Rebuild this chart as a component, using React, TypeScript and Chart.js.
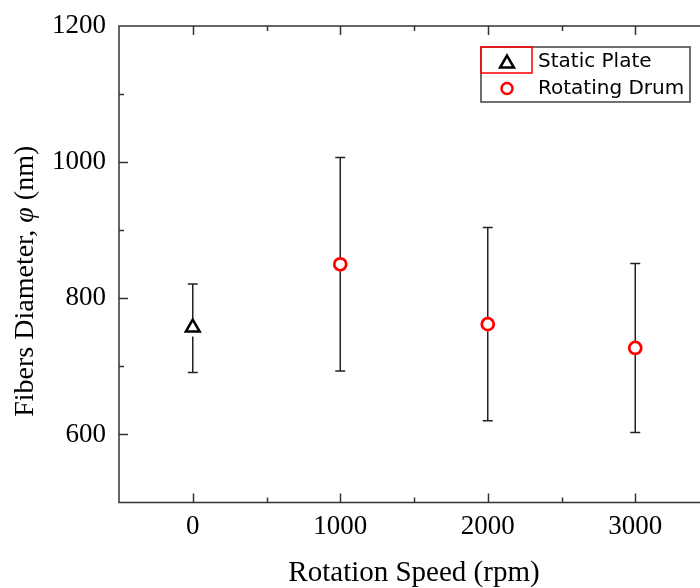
import React, { useEffect, useRef } from 'react';
import { Chart, registerables } from 'chart.js';
Chart.register(...registerables);

// ---- data ----
const staticSpeed = [0];
const staticMean = [757];
const staticLow = [691];
const staticHigh = [821];

const drumSpeed = [1000, 2000, 3000];
const drumMean = [850, 762, 727];
const drumLow = [693, 620, 603];
const drumHigh = [1007, 904, 851];

const seriesLabels = ['Static Plate', 'Rotating Drum'];
const xMajorTicks = [0, 1000, 2000, 3000];
const yMajorTicks = [600, 800, 1000, 1200];
const xTitle = 'Rotation Speed (rpm)';
const yTitleParts = ['Fibers Diameter, ', 'φ', ' (nm)'];

const SERIF = '"Liberation Serif", "Times New Roman", serif';
const SANS = '"DejaVu Sans", sans-serif';
const AXIS_COLOR = '#333333';

const errorBarPlugin = {
  id: 'errorBars',
  beforeDatasetsDraw(chart: any) {
    const ctx = chart.ctx;
    const xs = chart.scales.x;
    const ys = chart.scales.y;
    chart.data.datasets.forEach((ds: any) => {
      ds.data.forEach((pt: any, j: number) => {
        const x = xs.getPixelForValue(pt.x);
        const yc = ys.getPixelForValue(pt.y);
        const yh = ys.getPixelForValue(ds.errHigh[j]);
        const yl = ys.getPixelForValue(ds.errLow[j]);
        const gap = ds.errGap;
        ctx.save();
        ctx.strokeStyle = '#222222';
        ctx.lineWidth = 1.5;
        ctx.beginPath();
        ctx.moveTo(x, yh);
        ctx.lineTo(x, yc - gap);
        ctx.moveTo(x, yc + gap);
        ctx.lineTo(x, yl);
        ctx.moveTo(x - 5, yh);
        ctx.lineTo(x + 5, yh);
        ctx.moveTo(x - 5, yl);
        ctx.lineTo(x + 5, yl);
        ctx.stroke();
        ctx.restore();
      });
    });
  },
};

const framePlugin = {
  id: 'frameTicks',
  afterDatasetsDraw(chart: any) {
    const ctx = chart.ctx;
    const { left, right, top, bottom } = chart.chartArea;
    const xs = chart.scales.x;
    const ys = chart.scales.y;
    ctx.save();
    ctx.strokeStyle = AXIS_COLOR;
    ctx.lineWidth = 1.5;
    ctx.strokeRect(left, top, right - left, bottom - top);
    ctx.beginPath();
    xs.ticks.forEach((t: any) => {
      if (t.value <= xs.min || t.value >= xs.max) return;
      const px = Math.round(xs.getPixelForValue(t.value)) + 0.5;
      const len = xMajorTicks.includes(t.value) ? 9 : 5;
      ctx.moveTo(px, bottom);
      ctx.lineTo(px, bottom - len);
      ctx.moveTo(px, top);
      ctx.lineTo(px, top + len);
    });
    ys.ticks.forEach((t: any) => {
      if (t.value <= ys.min || t.value >= ys.max) return;
      const py = Math.round(ys.getPixelForValue(t.value)) + 0.5;
      const len = yMajorTicks.includes(t.value) ? 9 : 5;
      ctx.moveTo(left, py);
      ctx.lineTo(left + len, py);
      ctx.moveTo(right, py);
      ctx.lineTo(right - len, py);
    });
    ctx.stroke();
    ctx.restore();
  },
};

function drawTriangle(ctx: CanvasRenderingContext2D, x: number, y: number, r: number) {
  ctx.beginPath();
  ctx.moveTo(x, y - r);
  ctx.lineTo(x + r * Math.sin(Math.PI * 2 / 3), y - r * Math.cos(Math.PI * 2 / 3));
  ctx.lineTo(x + r * Math.sin(Math.PI * 4 / 3), y - r * Math.cos(Math.PI * 4 / 3));
  ctx.closePath();
}

const legendAndTitlePlugin = {
  id: 'legendTitle',
  afterDraw(chart: any) {
    const ctx = chart.ctx;
    const { right, top, bottom } = chart.chartArea;
    // legend box
    const bx = right - 228;
    const by = top + 21;
    const bw = 209;
    const bh = 55;
    ctx.save();
    ctx.fillStyle = '#ffffff';
    ctx.fillRect(bx, by, bw, bh);
    ctx.strokeStyle = '#404040';
    ctx.lineWidth = 1.5;
    ctx.strokeRect(bx, by, bw, bh);
    // red selection rectangle around first symbol
    ctx.strokeStyle = '#ff0000';
    ctx.lineWidth = 1.5;
    ctx.strokeRect(bx, by, 51, 26);

    const symX = bx + 26;
    const rows = [by + 14.5, by + 41.5];
    // triangle
    ctx.lineWidth = 2.5;
    ctx.strokeStyle = '#000000';
    ctx.fillStyle = '#ffffff';
    drawTriangle(ctx, symX, rows[0] + 2, 8);
    ctx.fill();
    ctx.stroke();
    // circle
    ctx.strokeStyle = '#ff0000';
    ctx.beginPath();
    ctx.arc(symX, rows[1], 5.5, 0, Math.PI * 2);
    ctx.fill();
    ctx.stroke();

    ctx.fillStyle = '#000000';
    ctx.font = '20px ' + SANS;
    ctx.textBaseline = 'middle';
    ctx.textAlign = 'left';
    ctx.fillText(seriesLabels[0], bx + 57, rows[0]);
    ctx.fillText(seriesLabels[1], bx + 57, rows[1]);

    // y title with italic phi
    const fonts = ['28px ' + SERIF, 'italic 28px ' + SERIF, '28px ' + SERIF];
    let total = 0;
    const widths = yTitleParts.map((p, i) => {
      ctx.font = fonts[i];
      const w = ctx.measureText(p).width;
      total += w;
      return w;
    });
    ctx.translate(26, (top + bottom) / 2 + 17);
    ctx.rotate(-Math.PI / 2);
    let cx = -total / 2;
    yTitleParts.forEach((p, i) => {
      ctx.font = fonts[i];
      ctx.fillText(p, cx, 0);
      cx += widths[i];
    });
    ctx.restore();
  },
};

export default function App() {
  const ref = useRef<HTMLCanvasElement | null>(null);
  useEffect(() => {
    if (!ref.current) return;
    const chart = new Chart(ref.current, {
      type: 'scatter',
      data: {
        datasets: [
          {
            label: seriesLabels[0],
            data: staticSpeed.map((x, i) => ({ x, y: staticMean[i] })),
            errLow: staticLow,
            errHigh: staticHigh,
            errGap: 9,
            pointStyle: 'triangle',
            pointRadius: 8,
            pointHoverRadius: 8,
            borderWidth: 2.5,
            borderColor: '#000000',
            backgroundColor: '#ffffff',
          } as any,
          {
            label: seriesLabels[1],
            data: drumSpeed.map((x, i) => ({ x, y: drumMean[i] })),
            errLow: drumLow,
            errHigh: drumHigh,
            errGap: 7,
            pointStyle: 'circle',
            pointRadius: 6,
            pointHoverRadius: 6,
            borderWidth: 2.75,
            borderColor: '#ff0000',
            backgroundColor: '#ffffff',
          } as any,
        ],
      },
      options: {
        responsive: false,
        animation: false,
        events: [],
        layout: { padding: { left: 0, top: 26, right: 11, bottom: 0 } },
        plugins: { legend: { display: false }, tooltip: { enabled: false } },
        scales: {
          x: {
            type: 'linear',
            min: -500,
            max: 3500,
            grid: { display: false, drawTicks: false },
            border: { display: false },
            ticks: {
              stepSize: 500,
              autoSkip: false,
              maxRotation: 0,
              padding: 8,
              color: '#000000',
              font: { family: SERIF, size: 27 },
              callback: (v: any) => (xMajorTicks.includes(v) ? String(v) : ''),
            },
            title: {
              display: true,
              text: xTitle,
              color: '#000000',
              padding: 0,
              font: { family: SERIF, size: 29, lineHeight: 1.0 },
            },
            afterFit: (s: any) => {
              s.height = 85.5;
              s.paddingLeft = 0;
              s.paddingRight = 0;
            },
          },
          y: {
            type: 'linear',
            min: 500,
            max: 1200,
            grid: { display: false, drawTicks: false },
            border: { display: false },
            ticks: {
              stepSize: 100,
              autoSkip: false,
              padding: 13,
              color: '#000000',
              font: { family: SERIF, size: 27 },
              callback: (v: any) => (yMajorTicks.includes(v) ? String(v) : ''),
            },
            afterFit: (s: any) => {
              s.width = 119;
              s.paddingTop = 0;
              s.paddingBottom = 0;
            },
          },
        },
      },
      plugins: [errorBarPlugin, framePlugin, legendAndTitlePlugin],
    });
    return () => chart.destroy();
  }, []);
  return (
    <div style={{ position: 'absolute', left: 0, top: 0, width: 700, height: 588, overflow: 'hidden', background: '#fff' }}>
      <canvas ref={ref} width={720} height={588} style={{ display: 'block' }} />
    </div>
  );
}
